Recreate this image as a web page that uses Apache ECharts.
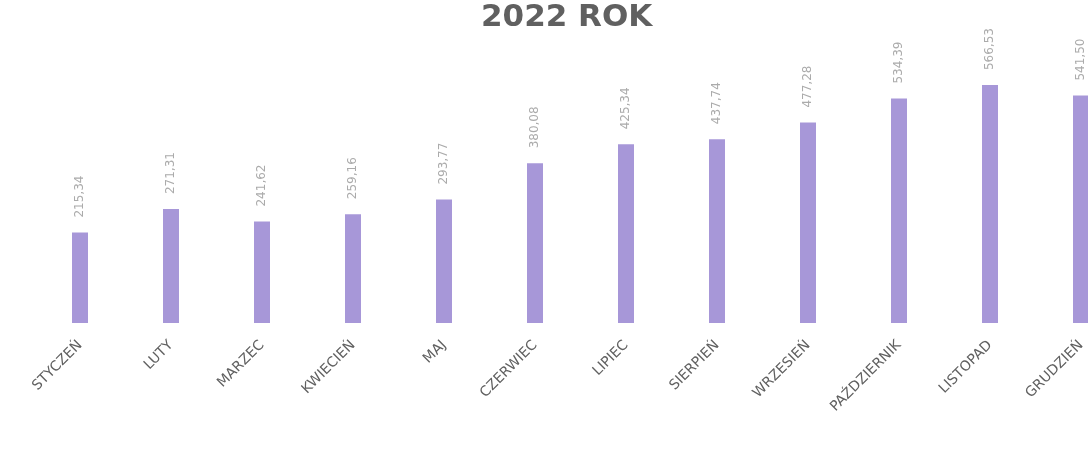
<!DOCTYPE html>
<html>
<head>
<meta charset="utf-8">
<script src="https://cdn.jsdelivr.net/npm/echarts@6/dist/echarts.min.js"></script>
<style>
html,body{margin:0;padding:0;background:#fff;}
#chart{width:1088px;height:452px;}
</style>
</head>
<body>
<div id="chart"></div>
<script>
const titleText = '2022 ROK';
const categories = ['STYCZEŃ','LUTY','MARZEC','KWIECIEŃ','MAJ','CZERWIEC','LIPIEC','SIERPIEŃ','WRZESIEŃ','PAŹDZIERNIK','LISTOPAD','GRUDZIEŃ'];
const values = [215.34, 271.31, 241.62, 259.16, 293.77, 380.08, 425.34, 437.74, 477.28, 534.39, 566.53, 541.50];

const chart = echarts.init(document.getElementById('chart'));
chart.setOption({
  animation: false,
  backgroundColor: '#ffffff',
  title: {
    text: titleText,
    left: 476,
    top: -3,
    textStyle: { fontFamily: 'DejaVu Sans', fontSize: 31, fontWeight: 'bold', color: '#606060' }
  },
  grid: { left: 34.5, width: 1092, top: 29, height: 294, containLabel: false, outerBoundsMode: 'none' },
  xAxis: {
    type: 'category',
    data: categories,
    axisLine: { show: false },
    axisTick: { show: false },
    axisLabel: {
      rotate: 45,
      margin: 20,
      interval: 0,
      fontFamily: 'DejaVu Sans',
      fontSize: 14,
      color: '#606060'
    }
  },
  yAxis: {
    type: 'value',
    min: 0,
    max: 700,
    show: false,
    splitLine: { show: false }
  },
  series: [{
    type: 'bar',
    data: values,
    barWidth: 16,
    itemStyle: { color: '#a797d8' },
    label: {
      show: true,
      position: 'top',
      rotate: 90,
      align: 'left',
      verticalAlign: 'middle',
      distance: 15,
      fontFamily: 'DejaVu Sans',
      fontSize: 12,
      color: '#ababab',
      formatter: p => p.value.toFixed(2).replace('.', ',')
    }
  }]
});
</script>
</body>
</html>
